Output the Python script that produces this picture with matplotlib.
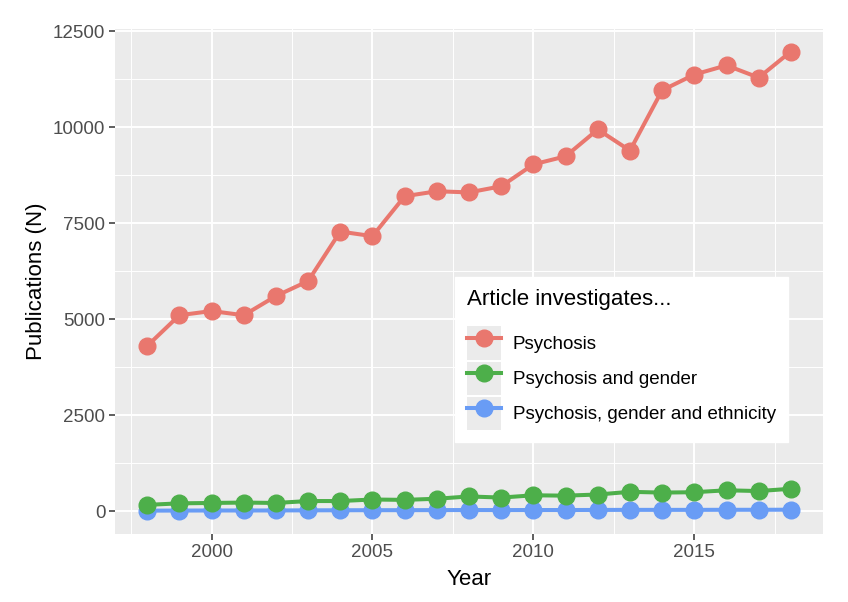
import matplotlib.pyplot as plt
from matplotlib.patches import Rectangle
from matplotlib.lines import Line2D
from matplotlib.legend_handler import HandlerTuple

plt.rcParams['font.family'] = ['Liberation Sans', 'DejaVu Sans']

years = list(range(1998, 2019))
psychosis = [4300, 5100, 5210, 5100, 5600, 5990, 7280, 7160, 8200, 8330, 8300, 8460,
             9030, 9240, 9940, 9390, 10960, 11370, 11610, 11290, 11970]
psy_gender = [160, 200, 210, 220, 210, 260, 260, 300, 290, 320, 380, 350,
              410, 400, 430, 500, 480, 490, 540, 520, 580]
psy_gender_eth = [10, 12, 14, 14, 15, 18, 20, 22, 22, 24, 26, 25,
                  26, 26, 28, 30, 30, 30, 32, 32, 34]

labels = ['Psychosis', 'Psychosis and gender', 'Psychosis, gender and ethnicity']
colors = ['#E9776E', '#4DAF4A', '#699CF5']
series = [psychosis, psy_gender, psy_gender_eth]

fig = plt.figure(figsize=(8.48, 6.02), dpi=100)
ax = fig.add_axes([0.1356, 0.1130, 0.835, 0.8389])
ax.set_facecolor('#EBEBEB')

# blue first, so green and red are drawn over it
for vals, col in reversed(list(zip(series, colors))):
    ax.plot(years, vals, color=col, lw=2.9, marker='o', ms=12, zorder=3)

ax.set_xlim(1997, 2019)
ax.set_ylim(-598, 12558)
ax.set_xticks([2000, 2005, 2010, 2015])
ax.set_xticks([1997.5, 2002.5, 2007.5, 2012.5, 2017.5], minor=True)
ax.set_yticks([0, 2500, 5000, 7500, 10000, 12500])
ax.set_yticks([1250, 3750, 6250, 8750, 11250], minor=True)
ax.grid(True, which='major', color='white', lw=1.4, zorder=0)
ax.grid(True, which='minor', color='white', lw=0.7, zorder=0)
ax.set_axisbelow(True)
for s in ax.spines.values():
    s.set_visible(False)
ax.tick_params(which='major', length=4, width=1.1, color='#333333',
               labelsize=13.5, labelcolor='#4D4D4D', pad=3)
ax.tick_params(which='minor', length=0)

ax.set_xlabel('Year', fontsize=16, labelpad=6)
ax.set_ylabel('Publications (N)', fontsize=16, labelpad=4)

handles = []
for col in colors:
    bg = Rectangle((0, 0), 1, 1, facecolor='#EBEBEB', edgecolor='none')
    ln = Line2D([], [], color=col, lw=2.9, marker='o', ms=12)
    handles.append((bg, ln))

leg = ax.legend(handles, labels, handler_map={tuple: HandlerTuple(ndivide=1, pad=0)},
                title='Article investigates...', loc='lower left',
                bbox_to_anchor=(0.480, 0.182), frameon=True, fancybox=False,
                framealpha=1, edgecolor='white', facecolor='white', fontsize=13.5,
                title_fontsize=16, handlelength=1.8, handleheight=2.35,
                labelspacing=0.1, handletextpad=0.65, borderpad=0.65,
                borderaxespad=0)
leg._legend_box.align = 'left'
leg._legend_box.sep = 12

plt.savefig('out.png', dpi=100)
